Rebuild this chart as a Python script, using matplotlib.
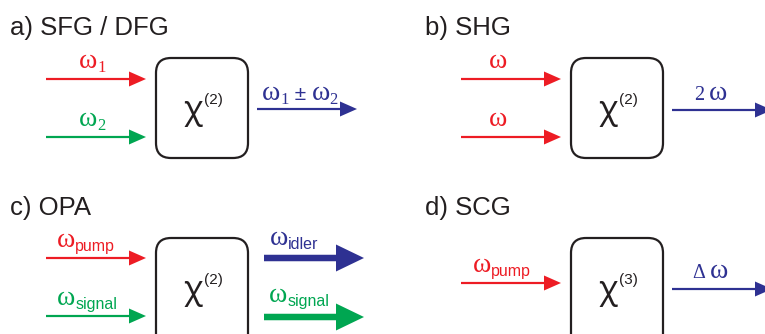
import matplotlib
matplotlib.use('Agg')
import matplotlib.pyplot as plt
from matplotlib.patches import FancyArrow, FancyBboxPatch

# Panel data
panel_titles = ['a) SFG / DFG', 'b) SHG', 'c) OPA', 'd) SCG']
chi_orders = ['2', '2', '2', '3']
# input beams: (symbol, subscript, colour key)
inputs = [
    [('ω', '1', 'red'), ('ω', '2', 'green')],
    [('ω', '', 'red'), ('ω', '', 'red')],
    [('ω', 'pump', 'red'), ('ω', 'signal', 'green')],
    [('ω', 'pump', 'red')],
]
# output beams: list of text runs (text, kind) per beam, colour key
outputs = [
    [([('ω', 'big'), ('1', 'sub'), (' ± ', 'sans'), ('ω', 'big'), ('2', 'sub')], 'blue')],
    [([('2', 'serif'), (' ', 'serif'), ('ω', 'big')], 'blue')],
    [([('ω', 'big'), ('idler', 'sanssub')], 'blue'),
     ([('ω', 'big'), ('signal', 'sanssub')], 'green')],
    [([('Δ', 'serif'), (' ', 'serif'), ('ω', 'big')], 'blue')],
]

colors = {'red': '#ED1C24', 'green': '#00A651', 'blue': '#2E3192'}
ink = '#231F20'

SANS = 'Liberation Sans'
SERIF = 'Liberation Serif'
run_style = {
    'big': (SERIF, 20, 0),
    'sub': (SERIF, 12, 4),
    'serif': (SERIF, 14.5, 0),
    'sans': (SANS, 15, 0),
    'sanssub': (SANS, 11.5, 4),
}

fig = plt.figure(figsize=(7.65, 3.34), dpi=100)
ax = fig.add_axes([0, 0, 1, 1])
ax.set_xlim(0, 765)
ax.set_ylim(334, 0)
ax.axis('off')
renderer = fig.canvas.get_renderer()


def draw_runs(x, y, runs, color):
    # place text pieces one after another on a common baseline
    for txt, kind in runs:
        fam, size, dy = run_style[kind]
        t = ax.text(x, y + dy, txt, family=fam, fontsize=size, color=color,
                    ha='left', va='baseline')
        x += t.get_window_extent(renderer).width


def arrow(x0, x1, y, color, thick=False):
    if thick:
        w, hw, hl = 6.5, 27, 28
    else:
        w, hw, hl = 2.2, 15, 17
    ax.add_patch(FancyArrow(x0, y, x1 - x0, 0, width=w, head_width=hw,
                            head_length=hl, length_includes_head=True,
                            color=color, lw=0))


# layout per panel: box left/top, title pos, input offsets, label offsets
box_pos = [(156, 58), (571, 58), (156, 238), (571, 238)]
box_h = [100, 100, 112, 112]
title_pos = [(10, 35), (425, 35), (10, 215), (425, 215)]
in_dy = [[21, 79], [21, 79], [20, 78], [45]]
in_lab_dx = [33, 28, 11, 12]
out_dy = [[51], [52], [20, 79], [51]]
out_lab = [[(5, -9)], [(22, -10)], [(6, -13), (5, -15)], [(20, -11)]]
BW = 92

for i in range(4):
    bx, by = box_pos[i]
    tx, ty = title_pos[i]
    ax.text(tx, ty, panel_titles[i], family=SANS, fontsize=18.5, color=ink,
            ha='left', va='baseline')

    ax.add_patch(FancyBboxPatch((bx, by), BW, box_h[i],
                                boxstyle='round,pad=0,rounding_size=15',
                                fc='none', ec=ink, lw=1.6))
    chi = ax.text(bx + 27, by + 61, 'χ', family='Noto Sans', fontsize=23,
                  color=ink, ha='left', va='baseline')
    cw = chi.get_window_extent(renderer).width
    ax.text(bx + 29 + cw, by + 46, '(' + chi_orders[i] + ')', family=SANS,
            fontsize=11, color=ink, ha='left', va='baseline')

    # input beams
    x0 = bx - 110
    for (sym, sub, ck), dy in zip(inputs[i], in_dy[i]):
        y = by + dy
        arrow(x0, bx - 10, y, colors[ck])
        runs = [(sym, 'big')]
        if sub:
            runs.append((sub, 'sub' if sub.isdigit() else 'sanssub'))
        draw_runs(x0 + in_lab_dx[i], y - 11, runs, colors[ck])

    # output beams
    thick = (i == 2)
    ox0 = bx + BW + (16 if thick else 9)
    for (runs, ck), dy, (lx, ly) in zip(outputs[i], out_dy[i], out_lab[i]):
        y = by + dy
        arrow(ox0, ox0 + 100, y, colors[ck], thick=thick)
        draw_runs(ox0 + lx, y + ly, runs, colors[ck])

fig.savefig('out.png', dpi=100)
